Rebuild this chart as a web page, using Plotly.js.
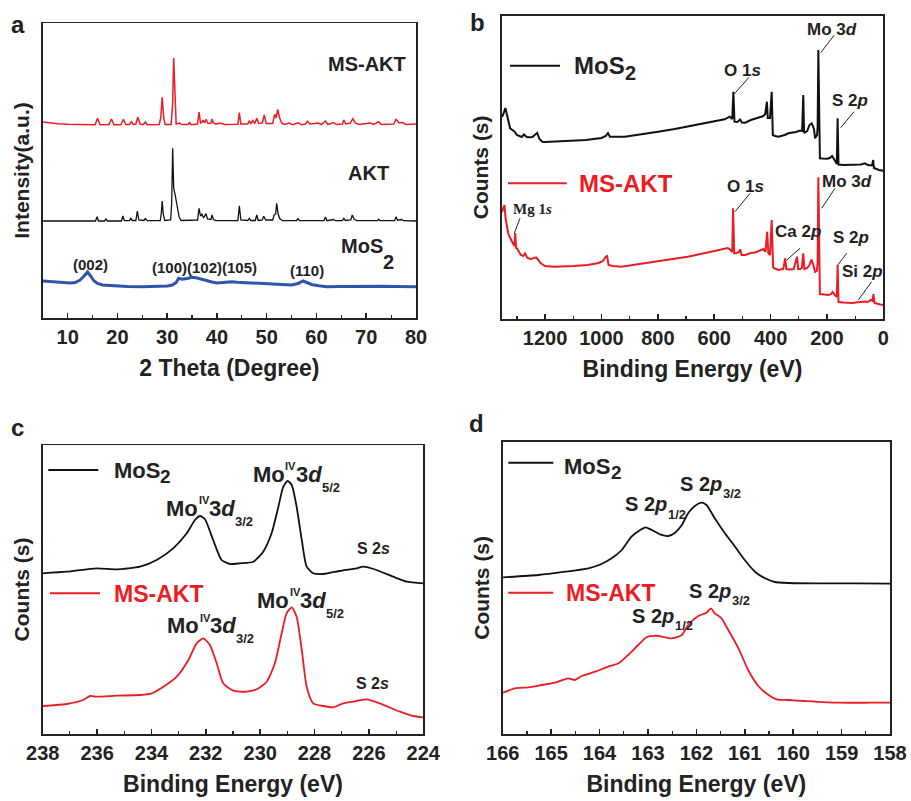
<!DOCTYPE html>
<html><head><meta charset="utf-8">
<script src="https://cdn.plot.ly/plotly-3.0.1.min.js"></script>
<style>html,body{margin:0;padding:0;background:#fff}#chart{width:911px;height:801px}</style>
</head><body><div id="chart"></div>
<script>
// ---------- Panel a: XRD (2 Theta, intensity a.u.) ----------
const xrdTheta_MSAKT = [5,6,8,10,12,15.5,16,16.5,18.3,18.8,19.3,20.7,21.2,21.7,22.4,22.8,23.2,23.7,24.1,24.6,25.2,25.6,26,28.4,28.7,29,29.3,29.6,30.8,31.1,31.3,31.55,31.8,32.5,32.9,34.2,34.5,34.8,36.1,36.4,36.7,37,37.2,37.5,37.8,38.2,38.8,39,39.3,39.8,40.6,41.5,44.2,44.5,44.8,46.2,46.5,46.8,47.2,47.6,48,48.4,49.1,49.5,49.9,51.2,51.6,51.9,52.2,52.6,53,53.5,54.5,55.2,56.3,57,57.8,58.2,58.7,60.4,61,61.8,62.3,63.4,64,65.2,65.5,65.9,66.8,67.3,67.8,68.5,70.8,71.5,72.5,73,75.5,76,76.6,77.3,78,80];
const xrdInt_MSAKT = [196,195.2,194.3,193.8,193.5,193.3,199.7,193.3,193.4,199,193.3,193.3,198.7,193.4,193.5,196.3,193.5,194,200.7,193.8,193.5,196,193.3,193.5,200,220.7,200,193.5,193.5,215,260,215,194,195,193.5,193.5,195.5,193.3,194,206,195,196,198,195,198.7,194.5,195,199,195,193.8,195,193.5,193.8,205.3,194,194,197.3,194.5,197.5,194.5,199.7,194.5,195,203,194.5,194.5,203.7,200,208.7,200,195,193.5,195,193.3,195.3,193.3,194,196.7,194,195,193.5,197,193.5,195.5,193.5,194,198,194,195,199.3,195,193.5,195,193.5,196.3,193.5,194,198.7,195,195.5,193.5,194];
const xrdTheta_AKT = [5,15.6,15.9,16.2,17.4,17.7,18,20.8,21.1,21.4,22.4,22.7,23,23.7,24,24.3,25.3,25.6,26,28.6,28.8,29,29.2,29.5,30.7,30.9,31.1,31.3,31.6,32,32.4,32.8,36.1,36.4,36.7,37,37.3,37.8,38.1,38.8,39,39.3,39.8,44.2,44.5,44.8,46.2,46.5,46.8,47.7,48,48.3,49.1,49.4,49.8,51.2,51.5,51.8,52,52.3,52.6,53.2,56,56.3,56.6,61.5,61.8,62.1,63.4,63.8,65.2,65.5,65.8,66.9,67.2,67.6,68.2,72.3,72.5,72.8,75.7,76,76.3,77.1,77.5,80];
const xrdInt_AKT = [97,97,101.3,97,97,99,97,97,102,97.5,97.3,99.7,97.5,97.5,107,98,97.5,99.5,97.3,97.5,104,117,104,97.5,98,115,169.7,130,123,112,101,97.5,98,109.7,102,103.7,100,104.3,99,98.5,103,98.5,97.3,97.5,112.3,98,97.5,99.7,97.5,97.5,103,97.5,98,101.7,98,98,103,104,114.7,104,99.5,97.3,97.5,99.5,97.3,97.5,101,97.3,98.5,97.3,97.5,99.7,97.5,98,103,98.5,97.3,97.3,98.8,97.3,97.5,101.3,97.8,98.5,97.3,97];
const xrdTheta_MoS2 = [5,7,9,10.5,11.5,12.5,13.3,14,14.6,15.3,16,17,18.5,20,22,25,28,30,31,31.8,32.3,33,34,35,36,37,38,39,40,41,42,43,44,45,47,50,53,55,56.3,57.3,58.3,59,60.5,62,65,68,70,73,76,80];
const xrdInt_MoS2 = [37,36,35.5,35,35.5,38,42,46,42,37,34.5,33,32.5,32,31.5,31.3,31.5,32,33,35.5,39.7,38.7,39.5,40.7,40,38.5,37,36,35,35.3,36,36.3,35.8,35.5,35,34,33.5,33,34.5,37,35,33.5,32.3,31.3,31.5,31.8,32,31.8,31.5,31.3];
const xrdMillerLabels = ['(002)', '(100)(102)(105)', '(110)'];

// ---------- Panel b: XPS survey (binding energy eV, counts) ----------
const surveyBE_MoS2 = [1353,1348,1341,1335,1330,1324,1316,1308,1300,1290,1283,1275,1265,1258,1245,1237,1228,1220,1210,1200,1173,1120,1055,1000,985,977,970,917,860,799,740,681,620,563,545,536,532,528,518,508,502,490,470,443,425,419,413,410,402,396,392,384,372,350,337,310,295,288,284,281,270,262,254,246,242,235,233,230.5,225,215,200,190,182,175,165,162,159,140,101,80,65,55,40,36,33,15,0];
const surveyCounts_MoS2 = [202,205,211,203,197,190.7,189,187.3,184,183,182,184.5,182,181.7,182,184,186,180,177.3,177,177.3,178,179,181,183,186,182.3,182.3,184.5,187.3,190,193,196.5,199.7,202.3,200,227.3,197.3,197,199.5,196.5,196.3,199,201.7,203,205,217.3,201,201,227.3,184,183,182.3,184,185.7,187,188.5,188,224,186,188,194,195.7,190,180.7,184,192,269,160.7,160.5,160.3,161,163,160,155,200.7,154.5,154,154,154.5,155.7,154,153.5,159,151,149,148.3];
const surveyBE_MSAKT = [1353,1349,1344,1340,1335,1331,1326,1321,1316,1312,1309,1306,1303,1300,1293,1286,1278,1271,1265,1260,1250,1240,1232,1224,1215,1200,1167,1100,1049,1010,995,985,980,975,960,930,870,812,750,694,640,576,552,545,536,533,529,520,512,508,503,490,470,455,437,425,418,412,408,402,396,391,387,372,355,348,344,330,318,306,302,295,289,284,280,270,262,255,248,242,236,233,230.5,225,210,195,185,180,172,165,162,159,140,110,90,65,55,45,38,35,31,20,10,0];
const surveyCounts_MSAKT = [107,110,114,100,92,86,82,79,76,74,73,86,71,70.7,67,64,63,65.5,62,60.7,60,61,61.7,59,55.7,53,52.3,53,54,56,58,62.3,63,54,53,52.3,55,57.3,60,62.3,65.5,69,71,70,67,110.7,65.7,66,67,69.7,64,64,66,66.5,69,70,67,87.3,66,64,99,52,50.7,49,50,60.7,50,49.5,50,62.3,50,50,51,65.7,50,51,54,59.5,54,47,48,56,141.7,25,24.5,24,25,27,24,22,54,17,16.5,16,16.7,17.5,17,19,18,25,16,15,14.5,14];

// ---------- Panel c: Mo 3d ----------
const mo3dBE_MoS2 = [238,237.12,236.01,235.28,234.42,233.81,233.2,232.7,232.4,232.21,232.03,231.73,231.42,231.11,230.75,230.25,229.89,229.58,229.33,229.15,228.99,228.84,228.66,228.47,228.29,228.05,227.68,227.07,226.45,226.21,225.72,225.11,224.61,224];
const mo3dCounts_MoS2 = [160.7,162.3,165.7,164.7,167.3,174,185.7,200.7,214,218,214.7,194,174,170,170.7,172.3,182.3,200.7,227.3,247.3,253,249,227.3,194,167.3,160.7,160,163,165.7,167.3,164,157.3,152.3,150.7];
const mo3dBE_MSAKT = [238,237.12,236.51,236.26,236.01,235.28,234.42,233.99,233.56,233.07,232.64,232.34,232.09,231.85,231.6,231.36,230.99,230.5,230.13,229.76,229.46,229.21,229.03,228.84,228.66,228.47,228.29,228.05,227.68,227.31,226.94,226.45,226.09,225.6,224.86,224.37,224];
const mo3dCounts_MSAKT = [28,30,34,38,37.3,38.3,39,40.7,47.3,57.3,74,90.7,95.7,89,70.7,50.7,43.3,42.3,44.7,52.3,70.7,100.7,120.7,126.7,117.3,84,47.3,30.7,28,26.7,30.7,33,34.7,30.7,22.3,18,16.7];

// ---------- Panel d: S 2p ----------
const s2pBE_MoS2 = [165.99,165.26,164.71,164.23,163.96,163.75,163.54,163.34,163.16,163.05,162.92,162.75,162.58,162.44,162.3,162.17,162.03,161.89,161.79,161.62,161.41,161.2,161,160.79,160.58,160.38,160.1,159.41,158.72,158];
const s2pCounts_MoS2 = [156.7,159,162.3,165.7,170,175.7,184,197.3,204,206.7,204,199.7,198,201.3,209,220.7,228,231.3,229,215.7,200.7,187.3,174,162.3,155.7,152,151,150.7,150.7,150.3];
const s2pBE_MSAKT = [165.99,165.75,165.47,165.19,164.92,164.65,164.51,164.37,164.09,163.82,163.61,163.41,163.2,163.03,162.79,162.51,162.3,162.17,161.96,161.79,161.7,161.62,161.48,161.34,161.13,160.93,160.72,160.51,160.34,160.1,159.76,159.07,158.38,158];
const s2pCounts_MSAKT = [41.3,45.7,46.7,49,51.3,55.7,54,58,62.3,67.3,70.7,79,89,96.7,98,95.7,99,109,118,121.3,125.7,120.7,115.7,104,85.7,64,48,39,34.7,34,33,31.3,31.3,31.3];

// ---------- styling ----------
const FONT = 'Liberation Sans, Arial, Helvetica, sans-serif';
const RED = 'rgb(236,28,36)';
const BLACK = '#111111';
const BLUE = 'rgb(48,84,172)';
const W = 911, H = 801;
const PX = p => p / W;
const PY = p => 1 - p / H;

function line(x, y, name, color, width, xa, ya, smooth) {
  const t = {x, y, name, type: 'scatter', mode: 'lines', xaxis: xa, yaxis: ya,
    line: {color, width}, showlegend: false, hoverinfo: 'skip'};
  if (smooth) { t.line.shape = 'spline'; t.line.smoothing = 0.6; }
  return t;
}

const traces = [
  line(xrdTheta_MSAKT, xrdInt_MSAKT, 'MS-AKT', RED, 1.5, 'x', 'y'),
  line(xrdTheta_AKT, xrdInt_AKT, 'AKT', BLACK, 1.3, 'x', 'y'),
  line(xrdTheta_MoS2, xrdInt_MoS2, 'MoS2', BLUE, 3, 'x', 'y'),
  line(surveyBE_MoS2, surveyCounts_MoS2, 'MoS2', BLACK, 2, 'x2', 'y2'),
  line(surveyBE_MSAKT, surveyCounts_MSAKT, 'MS-AKT', RED, 2, 'x2', 'y2'),
  line(mo3dBE_MoS2, mo3dCounts_MoS2, 'MoS2', BLACK, 1.8, 'x3', 'y3', true),
  line(mo3dBE_MSAKT, mo3dCounts_MSAKT, 'MS-AKT', RED, 1.8, 'x3', 'y3', true),
  line(s2pBE_MoS2, s2pCounts_MoS2, 'MoS2', BLACK, 1.8, 'x4', 'y4', true),
  line(s2pBE_MSAKT, s2pCounts_MSAKT, 'MS-AKT', RED, 1.8, 'x4', 'y4', true)
];

function xAxis(domain, range, dtick, minor, anchor, title) {
  return {domain, range, anchor, dtick, tick0: 0, ticks: 'inside', ticklen: 5, tickwidth: 1.5, tickcolor: '#222',
    minor: {ticks: 'inside', ticklen: 3, dtick: minor, tick0: 0, tickwidth: 1.2, tickcolor: '#222'},
    showline: true, mirror: true, linecolor: '#222', linewidth: 1.5, showgrid: false, zeroline: false,
    tickfont: {family: FONT, size: 20, weight: 'bold', color: '#222'},
    title: {text: title, font: {family: FONT, size: 23, weight: 'bold', color: '#222'}, standoff: 13},
    fixedrange: true};
}
function yAxis(domain, range, anchor, title) {
  return {domain, range, anchor, showline: true, mirror: true, linecolor: '#222', linewidth: 1.5,
    ticks: '', showticklabels: false, showgrid: false, zeroline: false,
    title: {text: title, font: {family: FONT, size: 21, weight: 'bold', color: '#222'}, standoff: 6},
    fixedrange: true};
}

const layout = {
  width: W, height: H, margin: {l: 0, r: 0, t: 0, b: 0},
  paper_bgcolor: '#fff', plot_bgcolor: '#fff', showlegend: false,
  font: {family: FONT, color: '#222'},
  xaxis: xAxis([PX(42.8), PX(416)], [5, 80], 10, 5, 'y', '2 Theta (Degree)'),
  yaxis: yAxis([PY(318), PY(23)], [0, 295], 'x', 'Intensity(a.u.)'),
  xaxis2: xAxis([PX(501.7), PX(883.3)], [1354, 0], 200, 100, 'y2', 'Binding Energy (eV)'),
  yaxis2: yAxis([PY(319), PY(15.7)], [0, 303.3], 'x2', 'Counts (s)'),
  xaxis3: xAxis([PX(42.7), PX(423.3)], [238, 224], 2, 1, 'y3', 'Binding Energy (eV)'),
  yaxis3: yAxis([PY(734), PY(445)], [0, 289], 'x3', 'Counts (s)'),
  xaxis4: xAxis([PX(502.7), PX(890)], [166, 158], 1, 0.5, 'y4', 'Binding Energy (eV)'),
  yaxis4: yAxis([PY(734), PY(441.7)], [0, 292.3], 'x4', 'Counts (s)'),
  shapes: [],
  annotations: []
};

function txt(text, px, py, size, opts) {
  opts = opts || {};
  layout.annotations.push({text, x: PX(px), y: PY(py), xref: 'paper', yref: 'paper', showarrow: false,
    xanchor: opts.anchor || 'center', yanchor: 'middle',
    font: {family: opts.family || FONT, size, weight: 'bold', color: opts.color || '#222'}});
}
function seg(x0, y0, x1, y1, color, width) {
  layout.shapes.push({type: 'line', xref: 'paper', yref: 'paper', x0: PX(x0), y0: PY(y0), x1: PX(x1), y1: PY(y1),
    line: {color, width}});
}
// label pieces (main text + separate small super/subscripts)
function moLabel(L, C, sub) {
  txt('Mo', L, C, 22, {anchor: 'left'});
  txt('IV', L + 32.5, C - 8, 11, {anchor: 'left'});
  txt('3<i>d</i>', L + 43, C, 22, {anchor: 'left'});
  txt(sub, L + 69, C + 13, 13, {anchor: 'left'});
}
function sLabel(L, C, sub) {
  txt('S 2<i>p</i>', L, C, 20, {anchor: 'left'});
  txt(sub, L + 43, C + 10, 13, {anchor: 'left'});
}
function mos2Legend(L, C, size, subSize, dx, dy) {
  txt('MoS', L, C, size, {anchor: 'left'});
  txt('2', L + dx, C + dy, subSize, {anchor: 'left'});
}

// panel letters
txt('a', 17.5, 25, 24); txt('b', 477.5, 22.5, 24); txt('c', 17.5, 427, 24); txt('d', 477, 423.5, 24);

// panel a labels
txt('MS-AKT', 366.7, 64.3, 20);
txt('AKT', 368, 173, 20);
txt('MoS', 361.7, 246, 20);
txt('2', 388, 261.7, 20);
txt(xrdMillerLabels[0], 90, 265, 15);
txt(xrdMillerLabels[1], 204, 267.7, 15);
txt(xrdMillerLabels[2], 306.7, 270.7, 15);

// panel b legend + peak labels
seg(510, 65.7, 560, 65.7, BLACK, 2);
mos2Legend(571.7, 65.3, 24, 20, 51, 7.5);
seg(508, 183.3, 566.7, 183.3, RED, 2);
txt('MS-AKT', 576.7, 183.3, 24, {anchor: 'left', color: RED});
txt('Mo 3<i>d</i>', 831.7, 30, 17);
txt('O 1<i>s</i>', 742.3, 70.7, 17);
txt('S 2<i>p</i>', 850, 100.7, 17);
txt('Mo 3<i>d</i>', 846.7, 181.7, 17);
txt('O 1<i>s</i>', 745.7, 186.7, 17);
txt('Ca 2<i>p</i>', 798.3, 231.7, 17);
txt('S 2<i>p</i>', 851, 237.3, 17);
txt('Si 2<i>p</i>', 862.3, 271.7, 17);
txt('Mg 1<i>s</i>', 532.3, 209.3, 15, {family: 'Liberation Serif, Times New Roman, serif'});
[[834.3,35,820.7,52.7],[749,77.3,734.3,94],[854,111.7,840.7,127.7],[835,188.3,821.7,208.3],
 [750,193.3,735,211.7],[800,248.3,786.7,260],[846.7,253.3,837.7,265],[871.7,281.7,858.3,300],
 [520,218.3,514.3,233.3]].forEach(s => seg(s[0], s[1], s[2], s[3], '#222', 1));

// panel c
seg(48.3, 470, 98.3, 470, BLACK, 2);
mos2Legend(111.7, 470, 22, 19, 46.5, 6);
seg(50, 593.3, 100, 593.3, RED, 2);
txt('MS-AKT', 111.7, 594.3, 23, {anchor: 'left', color: RED});
moLabel(250.7, 474, '5/2');
moLabel(164, 508.3, '3/2');
moLabel(255.3, 600, '5/2');
moLabel(165, 625.8, '3/2');
txt('S 2<i>s</i>', 373.3, 548.3, 16);
txt('S 2<i>s</i>', 372.3, 683.3, 16);

// panel d
seg(508.3, 462.7, 553.3, 462.7, BLACK, 2);
mos2Legend(562.3, 466, 22, 19, 46.5, 6);
seg(508.3, 592.7, 553.3, 592.7, RED, 2);
txt('MS-AKT', 564.3, 592.7, 23, {anchor: 'left', color: RED});
sLabel(677.7, 484, '3/2');
sLabel(623.3, 504, '1/2');
sLabel(686.7, 590.8, '3/2');
sLabel(630, 615.8, '1/2');

Plotly.newPlot('chart', traces, layout, {displayModeBar: false, staticPlot: true});
</script></body></html>
